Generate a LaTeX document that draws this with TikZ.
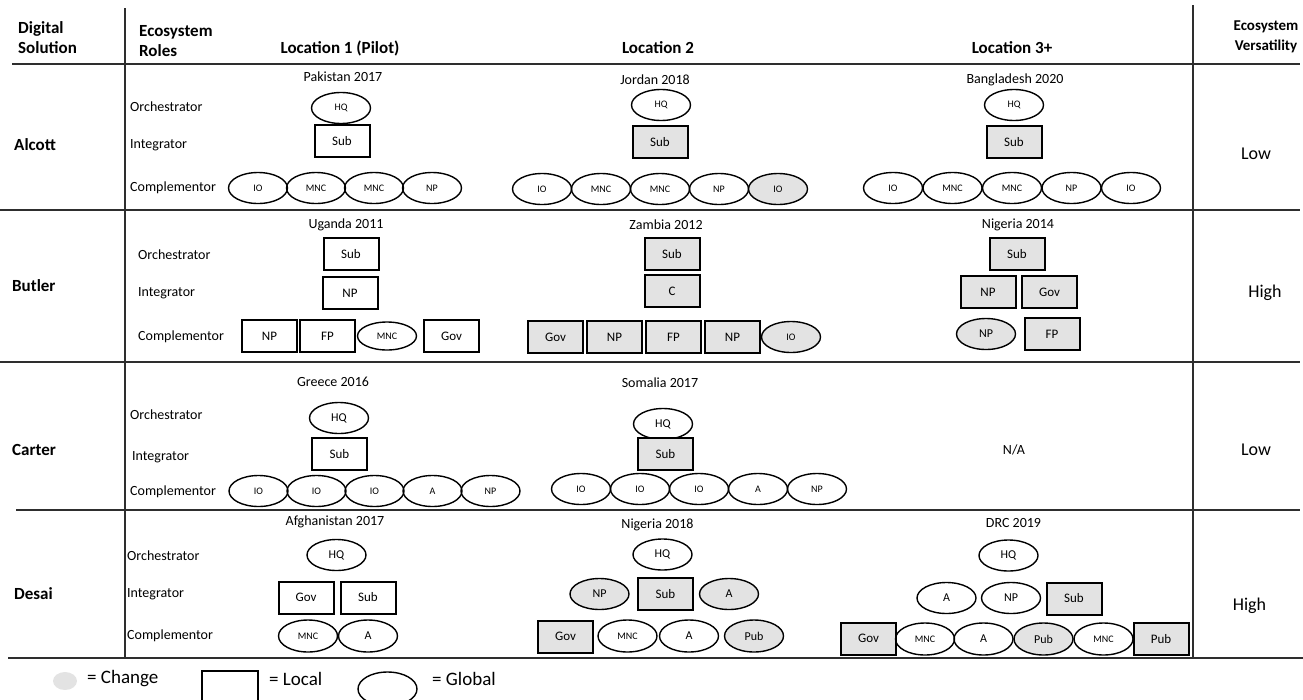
\documentclass[tikz,border=0pt]{standalone}
\usepackage{fontspec}
\setmainfont{Carlito}
\usepackage{xcolor}
\usetikzlibrary{shapes.geometric,positioning}
\definecolor{chgray}{HTML}{E3E3E3}
\definecolor{rulegray}{HTML}{2E2E2E}

\begin{document}
\begin{tikzpicture}[x=1pt, y=-1pt, every node/.style={
    inner sep=0pt,
    %draw,
  },
  glob/.style={ellipse, draw, line width=1.4pt, minimum width=59pt, minimum height=31pt, font=\fontsize{10}{12}\selectfont},
  loc/.style={rectangle, draw, line width=2pt, minimum width=55pt, minimum height=32pt, font=\fontsize{13}{15}\selectfont},
  chg/.style={fill=chgray},
  big/.style={font=\fontsize{12}{14}\selectfont},
  head/.style={font=\fontsize{17}{20}\selectfont\bfseries, align=left},
  role/.style={anchor=west, font=\fontsize{14}{16}\selectfont},
  place/.style={font=\fontsize{14}{16}\selectfont},
  vers/.style={font=\fontsize{18}{21}\selectfont},
  rule/.style={draw=rulegray, line width=1.3pt}]

  \useasboundingbox (0,0) rectangle (1303,699);

  % table rules
  \draw[rule] (12,64) -- (1300,64);
  \draw[rule] (0,210) -- (1300,210);
  \draw[rule] (0,362) -- (1300,362);
  \draw[rule] (16,510) -- (1300,510);
  \draw[rule] (8,658) -- (1303,658);
  \draw[rule] (125,8) -- (125,658);
  \draw[rule] (1193,5) -- (1193,658);

  \node[head, anchor=west] (h0) at (18,38) {Digital\\Solution};
  \node[head, anchor=west] (h1) at (139,41) {Ecosystem\\Roles};
  \node[head] (h2) at (340,48) {Location 1 (Pilot)};
  \node[head] (h3) at (658,48) {Location 2};
  \node[head] (h4) at (1012,48) {Location 3+};
  \node[head, font=\fontsize{15}{20}\selectfont\bfseries, align=center] (h5) at (1266,37) {Ecosystem\\Versatility};

  \node[head, anchor=west] (r1) at (14,145) {Alcott};
  \node[head, anchor=west] (r2) at (12,286) {Butler};
  \node[head, anchor=west] (r3) at (12,450) {Carter};
  \node[head, anchor=west] (r4) at (14,594) {Desai};

  % Alcott
  \node[role] (o1) at (130,107) {Orchestrator};
  \node[role] (i1) at (130,145) {Integrator};
  \node[role] (c1) at (130,188) {Complementor};

  \node[place] (pk) at (343,77) {Pakistan 2017};
  \node[glob] (pk1) at (341,108) {HQ};
  \node[loc] (pk2) at (342,141) {Sub};
  \node[glob] (pk3) at (258,188) {IO};
  \node[glob, right of=pk3, node distance=58pt] (pk4) {MNC};
  \node[glob, right of=pk4, node distance=58pt] (pk5) {MNC};
  \node[glob, right of=pk5, node distance=58pt] (pk6) {NP};

  \node[place] (jo) at (655,80) {Jordan 2018};
  \node[glob] (jo1) at (661,105) {HQ};
  \node[loc, chg] (jo2) at (660,142) {Sub};
  \node[glob] (jo3) at (542,189) {IO};
  \node[glob, right of=jo3, node distance=59pt] (jo4) {MNC};
  \node[glob, right of=jo4, node distance=59pt] (jo5) {MNC};
  \node[glob, right of=jo5, node distance=59pt] (jo6) {NP};
  \node[glob, chg, right of=jo6, node distance=59pt] (jo7) {IO};

  \node[place] (bd) at (1015,80) {Bangladesh 2020};
  \node[glob] (bd1) at (1014,105) {HQ};
  \node[loc, chg] (bd2) at (1014,142) {Sub};
  \node[glob] (bd3) at (893,188) {IO};
  \node[glob, right of=bd3, node distance=59.5pt] (bd4) {MNC};
  \node[glob, right of=bd4, node distance=59.5pt] (bd5) {MNC};
  \node[glob, right of=bd5, node distance=59.5pt] (bd6) {NP};
  \node[glob, right of=bd6, node distance=59.5pt] (bd7) {IO};

  \node[vers] (v1) at (1256,154) {Low};

  % Butler
  \node[role] (o2) at (138,255) {Orchestrator};
  \node[role] (i2) at (138,293) {Integrator};
  \node[role] (c2) at (138,337) {Complementor};

  \node[place] (ug) at (346,225) {Uganda 2011};
  \node[loc] (ug1) at (351,254) {Sub};
  \node[loc] (ug2) at (350,293) {NP};
  \node[loc] (ug3) at (269.5,336) {NP};
  \node[loc, right of=ug3, node distance=58pt] (ug4) {FP};
  \node[glob, minimum height=28pt, right of=ug4, node distance=59.5pt] (ug5) {MNC};
  \node[loc, right of=ug5, node distance=64.5pt] (ug6) {Gov};

  \node[place] (zm) at (666,225) {Zambia 2012};
  \node[loc, chg] (zm1) at (672,254) {Sub};
  \node[loc, chg] (zm2) at (672,291) {C};
  \node[loc, chg] (zm3) at (555.5,337) {Gov};
  \node[loc, chg, right of=zm3, node distance=59pt] (zm4) {NP};
  \node[loc, chg, right of=zm4, node distance=59pt] (zm5) {FP};
  \node[loc, chg, right of=zm5, node distance=59pt] (zm6) {NP};
  \node[glob, chg, right of=zm6, node distance=58.5pt] (zm7) {IO};

  \node[place] (ng) at (1018,225) {Nigeria 2014};
  \node[loc, chg] (ng1) at (1017,254) {Sub};
  \node[loc, chg] (ng2) at (988,292) {NP};
  \node[loc, chg, right of=ng2, node distance=61.5pt] (ng3) {Gov};
  \node[glob, chg, big] (ng4) at (986,334) {NP};
  \node[loc, chg] (ng5) at (1052,334) {FP};

  \node[vers] (v2) at (1265,293) {High};

  % Carter
  \node[role] (o3) at (130,415) {Orchestrator};
  \node[role] (i3) at (132,457) {Integrator};
  \node[role] (c3) at (130,492) {Complementor};

  \node[place] (gr) at (333,382) {Greece 2016};
  \node[glob, big] (gr1) at (339,418) {HQ};
  \node[loc] (gr2) at (339.5,454) {Sub};
  \node[glob] (gr3) at (258.5,491) {IO};
  \node[glob, right of=gr3, node distance=58pt] (gr4) {IO};
  \node[glob, right of=gr4, node distance=58pt] (gr5) {IO};
  \node[glob, right of=gr5, node distance=58pt] (gr6) {A};
  \node[glob, right of=gr6, node distance=58pt] (gr7) {NP};

  \node[place] (so) at (660,383) {Somalia 2017};
  \node[glob, big] (so1) at (663,424) {HQ};
  \node[loc, chg] (so2) at (665.5,454) {Sub};
  \node[glob] (so3) at (581,489) {IO};
  \node[glob, right of=so3, node distance=59pt] (so4) {IO};
  \node[glob, right of=so4, node distance=59pt] (so5) {IO};
  \node[glob, right of=so5, node distance=59pt] (so6) {A};
  \node[glob, right of=so6, node distance=59pt] (so7) {NP};

  \node[place] (na) at (1014,450) {N/A};
  \node[vers] (v3) at (1256,450) {Low};

  % Desai
  \node[role] (o4) at (127,556) {Orchestrator};
  \node[role] (i4) at (127,594) {Integrator};
  \node[role] (c4) at (127,636) {Complementor};

  \node[place] (af) at (335,522) {Afghanistan 2017};
  \node[glob, big] (af1) at (336.5,555) {HQ};
  \node[loc] (af2) at (306,597.5) {Gov};
  \node[loc, right of=af2, node distance=62pt] (af3) {Sub};
  \node[glob, minimum height=32pt] (af4) at (308,636) {MNC};
  \node[glob, big, minimum height=32pt, right of=af4, node distance=60pt] (af5) {A};

  \node[place] (nb) at (657.5,525) {Nigeria 2018};
  \node[glob, big] (nb1) at (662.5,554.5) {HQ};
  \node[glob, chg, big] (nb2) at (599.5,594) {NP};
  \node[loc, chg] (nb3) at (665.5,594) {Sub};
  \node[glob, chg, big] (nb4) at (729,594) {A};
  \node[loc, chg] (nb5) at (565.5,636.5) {Gov};
  \node[glob, minimum height=32pt] (nb6) at (627.5,636) {MNC};
  \node[glob, big, minimum height=32pt, right of=nb6, node distance=61.5pt] (nb7) {A};
  \node[glob, chg, big, minimum height=32pt, right of=nb7, node distance=65pt] (nb8) {Pub};

  \node[place] (dr) at (1013.5,523) {DRC 2019};
  \node[glob, big] (dr1) at (1008.5,555.5) {HQ};
  \node[glob, big] (dr2) at (946.5,598) {A};
  \node[glob, big, right of=dr2, node distance=64.5pt] (dr3) {NP};
  \node[loc, chg] (dr4) at (1074,598.5) {Sub};
  \node[loc, chg] (dr5) at (868.5,638.5) {Gov};
  \node[glob, minimum height=32pt] (dr6) at (925,639) {MNC};
  \node[glob, big, minimum height=32pt, right of=dr6, node distance=58.5pt] (dr7) {A};
  \node[glob, chg, big, minimum height=32pt, right of=dr7, node distance=60pt] (dr8) {Pub};
  \node[glob, minimum height=32pt, right of=dr8, node distance=60pt] (dr9) {MNC};
  \node[loc, chg] (dr10) at (1161,639) {Pub};

  \node[vers] (v4) at (1249.5,606) {High};

  % legend
  \node[ellipse, fill=chgray, minimum width=24pt, minimum height=18pt] (lg0) at (65,681) {};
  \node[anchor=west, font=\fontsize{19}{22}\selectfont] (lg1) at (87,679) {= Change};
  \node[loc, minimum width=56pt, minimum height=34pt] (lg2) at (230,688) {};
  \node[anchor=west, font=\fontsize{19}{22}\selectfont] (lg3) at (269,679) {= Local};
  \node[glob, minimum width=59pt, minimum height=34pt] (lg4) at (387.5,689) {};
  \node[anchor=west, font=\fontsize{19}{22}\selectfont] (lg5) at (432,679) {= Global};

\end{tikzpicture}
\end{document}
